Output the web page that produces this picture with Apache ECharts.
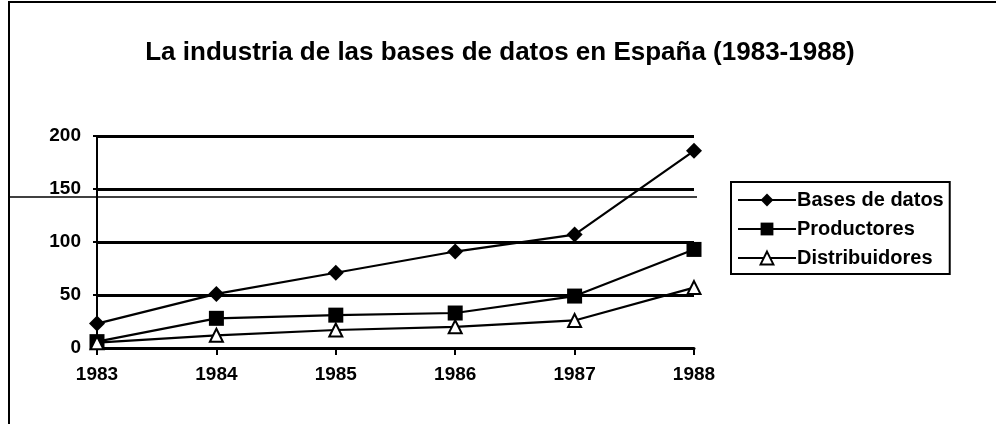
<!DOCTYPE html>
<html><head><meta charset="utf-8">
<script src="https://cdn.jsdelivr.net/npm/echarts@6/dist/echarts.min.js"></script>
<style>html,body{margin:0;padding:0;background:#fff}#c{width:996px;height:424px}</style>
</head><body><div id="c"></div>
<script>
const years = ['1983','1984','1985','1986','1987','1988'];
const basesDeDatos = [23, 51, 71, 91, 107, 186];
const productores = [6, 28, 31, 33, 49, 93];
const distribuidores = [5, 12, 17, 20, 26, 57];
const titleText = 'La industria de las bases de datos en España (1983-1988)';
const FONT = 'Liberation Sans';

const chart = echarts.init(document.getElementById('c'), null, {renderer: 'canvas'});
const lineStyle = {color: '#000', width: 2.2};
chart.setOption({
  backgroundColor: '#fff',
  animation: false,
  title: {
    text: titleText, left: 495, top: 35, textAlign: 'center',
    textStyle: {fontFamily: FONT, fontWeight: 'bold', fontSize: 26, color: '#000'}
  },
  legend: {
    orient: 'vertical', left: 731, top: 182, padding: [8, 6, 6, 6],
    itemGap: 9, itemWidth: 58, itemHeight: 16,
    borderColor: '#000', borderWidth: 2,
    textStyle: {fontFamily: FONT, fontWeight: 'bold', fontSize: 20, color: '#000', padding: [0, 0, 0, -4]},
    data: ['Bases de datos', 'Productores', 'Distribuidores']
  },
  grid: {left: 97, right: 302, top: 136, bottom: 76, containLabel: false},
  xAxis: {
    type: 'category', data: years, boundaryGap: false,
    axisLine: {lineStyle: {color: '#000', width: 3}},
    axisTick: {show: true, length: 7, lineStyle: {color: '#000', width: 2}},
    axisLabel: {fontFamily: FONT, fontWeight: 'bold', fontSize: 19, color: '#000', margin: 17},
    splitLine: {show: false}
  },
  yAxis: {
    type: 'value', min: 0, max: 200, interval: 50,
    axisLine: {show: true, lineStyle: {color: '#000', width: 2}},
    axisTick: {show: true, inside: false, length: 4, lineStyle: {color: '#000', width: 2}},
    axisLabel: {fontFamily: FONT, fontWeight: 'bold', fontSize: 19, color: '#000', margin: 16},
    splitLine: {show: true, lineStyle: {color: '#000', width: 3}}
  },
  series: [
    {name: 'Bases de datos', type: 'line', data: basesDeDatos, symbol: 'diamond', symbolSize: 16,
     itemStyle: {color: '#000'}, lineStyle: lineStyle, z: 5},
    {name: 'Productores', type: 'line', data: productores, symbol: 'rect', symbolSize: 15,
     itemStyle: {color: '#000'}, lineStyle: lineStyle, z: 5},
    {name: 'Distribuidores', type: 'line', data: distribuidores, symbol: 'triangle', symbolSize: 13,
     itemStyle: {color: '#fff', borderColor: '#000', borderWidth: 2}, lineStyle: lineStyle, z: 5}
  ],
  graphic: [
    {type: 'line', shape: {x1: 8, y1: 2, x2: 996, y2: 2}, style: {stroke: '#000', lineWidth: 2}},
    {type: 'line', shape: {x1: 9, y1: 2, x2: 9, y2: 424}, style: {stroke: '#000', lineWidth: 2}},
    {type: 'line', shape: {x1: 10, y1: 197, x2: 697, y2: 197}, style: {stroke: '#000', lineWidth: 1.5}}
  ]
});
</script></body></html>
